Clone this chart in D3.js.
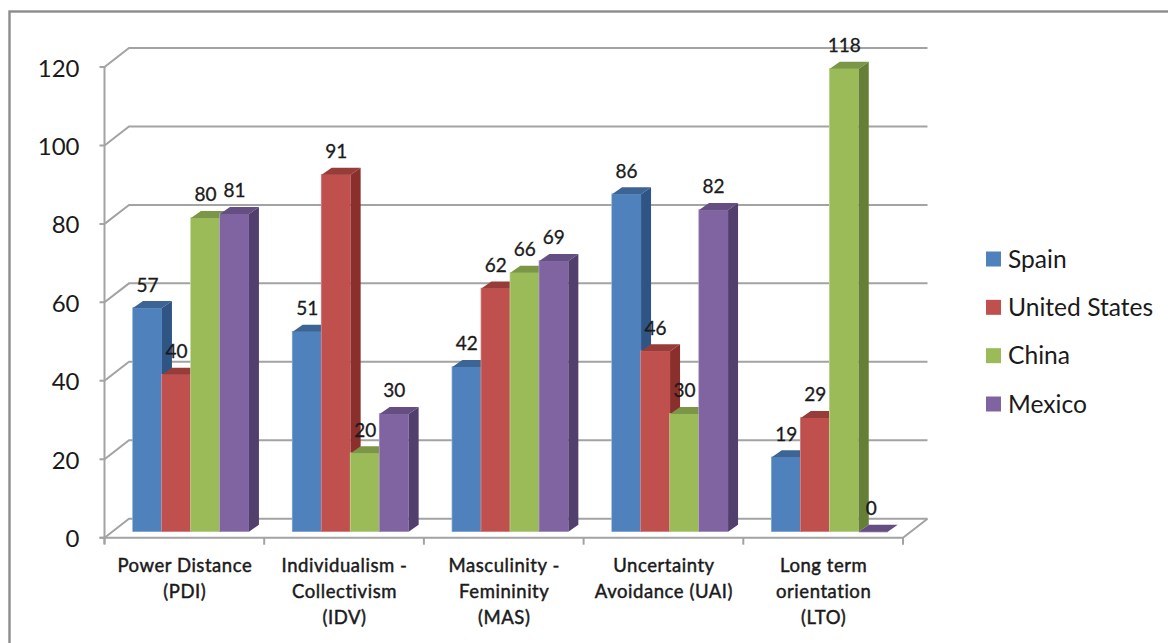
<!DOCTYPE html>
<html>
<head>
<meta charset="utf-8">
<script src="https://cdnjs.cloudflare.com/ajax/libs/d3/7.8.5/d3.min.js"></script>
<style>
html,body{margin:0;padding:0;background:#fff;}
svg{display:block;}
text{font-family:Lato,"Open Sans",sans-serif;fill:#1a1a1a;}
</style>
</head>
<body>
<svg id="chart" width="1168" height="643"></svg>
<script>
const categories = [
  ["Power Distance", "(PDI)"],
  ["Individualism -", "Collectivism", "(IDV)"],
  ["Masculinity -", "Femininity", "(MAS)"],
  ["Uncertainty", "Avoidance (UAI)"],
  ["Long term", "orientation", "(LTO)"]
];
const seriesNames = ["Spain", "United States", "China", "Mexico"];
const spain = [57, 51, 42, 86, 19];
const unitedStates = [40, 91, 62, 46, 29];
const china = [80, 20, 66, 30, 118];
const mexico = [81, 30, 69, 82, 0];
const yTicks = [0, 20, 40, 60, 80, 100, 120];

const seriesValues = [spain, unitedStates, china, mexico];
const frontColors = ["#4f81bd", "#c0504d", "#9bbb59", "#8064a2"];
const edgeColors = ["#8fb0d6", "#d98f8c", "#c3d69b", "#b3a2c7"];
const sideColors = ["#2f5585", "#8a2f2c", "#667f36", "#533f6e"];
const topColors = ["#3c6595", "#983c39", "#7a9646", "#644e82"];

const svg = d3.select("#chart");
const axisColor = "#a3a3a3";

// Front plane of the 3-D box and the offset to its back wall.
const x = d3.scaleBand().domain(d3.range(categories.length)).range([104.5, 903]);
const y = d3.scaleLinear().domain([0, 120]).range([537.7, 67]);
const wallDx = 24.5, wallDy = 19;

// Bars sit part-way into the box.
const barDx = 7, barDy = 6;
const barDepthX = 10, barDepthY = 7;
const barW = 29;
const groupPad = (x.bandwidth() - barW * seriesNames.length) / 2 - 0.4;

svg.append("rect").attr("x", 9.5).attr("y", 11.5).attr("width", 1180).attr("height", 660)
  .attr("fill", "none").attr("stroke", "#8c8c8c").attr("stroke-width", 2.4);

// Walls: gridlines on the back, their returns on the left side.
const grid = svg.append("g").attr("fill", "none").attr("stroke", axisColor).attr("stroke-width", 2);
yTicks.forEach(t => {
  grid.append("path").attr("d", d3.line()([
    [x.range()[0] - 5, y(t)],
    [x.range()[0], y(t)],
    [x.range()[0] + wallDx, y(t) - wallDy],
    [x.range()[1] + wallDx, y(t) - wallDy]
  ]));
});
grid.append("line")
  .attr("x1", x.range()[0]).attr("x2", x.range()[0])
  .attr("y1", y(120)).attr("y2", y(0) + 6);
grid.append("path").attr("d", d3.line()([
  [x.range()[0] - 5, y(0)],
  [x.range()[1], y(0)],
  [x.range()[1] + wallDx, y(0) - wallDy]
]));
d3.range(categories.length + 1).forEach(i => {
  const px = x.range()[0] + i * x.step();
  grid.append("line").attr("x1", px).attr("x2", px).attr("y1", y(0)).attr("y2", y(0) + 7);
});

// Bars, each with a front, a top and a right side face.
const bars = svg.append("g");
categories.forEach((c, ci) => {
  seriesValues.forEach((vals, si) => {
    const v = vals[ci];
    const x0 = x(ci) + barDx + groupPad + si * barW;
    const x1 = x0 + barW;
    const yb = y(0) - barDy;
    const yt = y(v) - barDy;
    const g = bars.append("g");
    g.append("path")
      .attr("d", d3.line()([[x0, yb], [x0, yt], [x1, yt]]))
      .attr("fill", "none").attr("stroke", edgeColors[si]).attr("stroke-width", 1.5);
    g.append("rect").attr("x", x0).attr("y", yt).attr("width", barW).attr("height", yb - yt)
      .attr("fill", frontColors[si]);
    g.append("path")
      .attr("d", d3.line()([[x0, yt], [x0 + barDepthX, yt - barDepthY], [x1 + barDepthX, yt - barDepthY], [x1, yt]]) + "Z")
      .attr("fill", topColors[si]);
    g.append("path")
      .attr("d", d3.line()([[x1, yt], [x1 + barDepthX, yt - barDepthY], [x1 + barDepthX, yb - barDepthY], [x1, yb]]) + "Z")
      .attr("fill", sideColors[si]);
  });
});

// Value labels above each bar.
const labels = svg.append("g").attr("text-anchor", "middle").attr("font-size", 19)
  .attr("stroke", "#1a1a1a").attr("stroke-width", 0.3);
categories.forEach((c, ci) => {
  seriesValues.forEach((vals, si) => {
    const v = vals[ci];
    labels.append("text")
      .attr("x", x(ci) + barDx + groupPad + si * barW + barW / 2 + (v === 0 ? -2 : 0))
      .attr("y", y(v) - barDy - 16.6)
      .text(v);
  });
});

// Y axis numbers.
svg.append("g").attr("text-anchor", "end").attr("font-size", 24).selectAll("text")
  .data(yTicks).join("text")
  .attr("x", 79.5).attr("y", d => y(d) + 9.5).text(d => d);

// Category labels, wrapped over several lines.
const catLabels = svg.append("g").attr("text-anchor", "middle").attr("font-size", 18.5)
  .attr("letter-spacing", 0.55).attr("stroke", "#1a1a1a").attr("stroke-width", 0.45);
categories.forEach((lines, ci) => {
  lines.forEach((line, li) => {
    catLabels.append("text")
      .attr("x", x(ci) + x.bandwidth() / 2 + 0.5)
      .attr("y", 572 + li * 26)
      .text(line);
  });
});

// Legend.
const legendY = d3.scalePoint().domain(seriesNames).range([259, 404]);
const legend = svg.append("g");
seriesNames.forEach((name, i) => {
  legend.append("rect").attr("x", 986).attr("y", legendY(name) - 7.5).attr("width", 15).attr("height", 15)
    .attr("fill", frontColors[i]);
  legend.append("text").attr("x", 1008).attr("y", legendY(name) + 8.5).attr("font-size", 24.6).text(name);
});
</script>
</body>
</html>
